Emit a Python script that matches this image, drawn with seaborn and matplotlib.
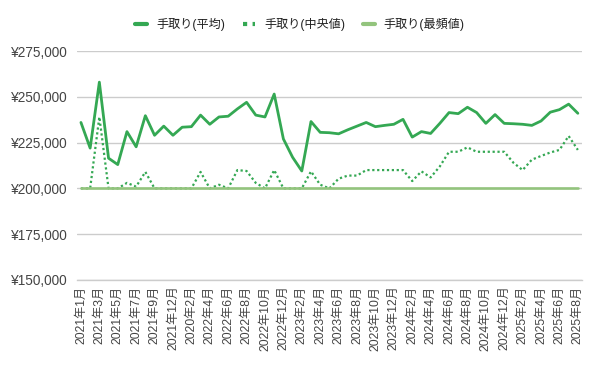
import matplotlib
matplotlib.use("Agg")
import matplotlib.pyplot as plt
import seaborn as sns
import pandas as pd
from matplotlib.lines import Line2D
from matplotlib.ticker import FuncFormatter

months = [
    "2021年1月", "2021年2月", "2021年3月", "2021年4月", "2021年5月", "2021年6月",
    "2021年7月", "2021年8月", "2021年9月", "2021年10月", "2021年12月", "2022年1月",
    "2020年2月", "2022年3月", "2022年4月", "2022年5月", "2022年6月", "2022年7月",
    "2022年8月", "2022年9月", "2022年10月", "2022年11月", "2022年12月", "2023年1月",
    "2023年2月", "2023年3月", "2023年4月", "2023年5月", "2023年6月", "2023年7月",
    "2023年8月", "2023年9月", "2023年10月", "2023年11月", "2023年12月", "2024年1月",
    "2024年2月", "2024年3月", "2024年4月", "2024年5月", "2024年6月", "2024年7月",
    "2024年8月", "2024年9月", "2024年10月", "2024年11月", "2024年12月", "2025年1月",
    "2025年2月", "2025年3月", "2025年4月", "2025年5月", "2025年6月", "2025年7月",
    "2025年8月",
]

mean_pay = [
    236000, 222000, 258000, 216500, 213000, 231000, 222700, 239700, 229000, 234000,
    229000, 233400, 233700, 240000, 235000, 239000, 239400, 243400, 247000, 240000,
    239000, 251500, 227000, 217000, 209500, 236500, 230600, 230400, 229800, 232000,
    234000, 236000, 233700, 234400, 235000, 237700, 228000, 231000, 230000, 235500,
    241400, 240800, 244300, 241400, 235500, 240300, 235500, 235300, 235000, 234400,
    236800, 241600, 243000, 246000, 241000,
]

median_pay = [
    200000, 200000, 239000, 200000, 200000, 203000, 201000, 209000, 200000, 200000,
    200000, 200000, 200000, 209000, 200000, 202000, 200000, 210000, 209500, 203000,
    200000, 210000, 200000, 200000, 200000, 209300, 202000, 200000, 205300, 207000,
    207000, 210000, 210000, 210000, 210000, 210000, 204000, 209300, 206000, 212000,
    220000, 220000, 222400, 220000, 220000, 220000, 220000, 214000, 210000, 215700,
    217700, 219600, 221000, 228600, 221000,
]

mode_pay = [
    200000, 200000, 200000, 200000, 200000, 200000, 200000, 200000, 200000, 200000,
    200000, 200000, 200000, 200000, 200000, 200000, 200000, 200000, 200000, 200000,
    200000, 200000, 200000, 200000, 200000, 200000, 200000, 200000, 200000, 200000,
    200000, 200000, 200000, 200000, 200000, 200000, 200000, 200000, 200000, 200000,
    200000, 200000, 200000, 200000, 200000, 200000, 200000, 200000, 200000, 200000,
    200000, 200000, 200000, 200000, 200000,
]

series_names = ["手取り(平均)", "手取り(中央値)", "手取り(最頻値)"]
y_ticks = [150000, 175000, 200000, 225000, 250000, 275000]

sns.set_theme(style="white")
plt.rcParams["font.family"] = ["Liberation Sans", "Noto Sans CJK JP", "DejaVu Sans"]

GREEN = "#34a853"
LIGHT = "#93c47d"

df = pd.DataFrame({
    "idx": list(range(len(months))),
    "mean": mean_pay,
    "median": median_pay,
    "mode": mode_pay,
})

fig = plt.figure(figsize=(6, 3.71), dpi=100)
ax = fig.add_axes([0.128, 0.2453, 0.842, 0.6172])

sns.lineplot(data=df, x="idx", y="mean", ax=ax, color=GREEN, linewidth=2.0,
             zorder=3, legend=False)
sns.lineplot(data=df, x="idx", y="median", ax=ax, color=GREEN, linewidth=1.6,
             linestyle=(0, (1, 1.2)), zorder=3, legend=False)
sns.lineplot(data=df, x="idx", y="mode", ax=ax, color=LIGHT, linewidth=1.9,
             zorder=4, legend=False)

ax.set_xlim(-0.45, len(months) - 1 + 0.45)
ax.set_ylim(150000, 275000)
ax.set_yticks(y_ticks)
ax.yaxis.set_major_formatter(FuncFormatter(lambda v, p: "¥{:,}".format(int(v))))
ax.set_xticks(list(range(0, len(months), 2)))
ax.set_xticklabels(months[::2], rotation=90)
ax.set_xlabel("")
ax.set_ylabel("")

ax.grid(axis="y", color="#cccccc", linewidth=1)
ax.grid(axis="x", visible=False)
for s in ["left", "right", "top"]:
    ax.spines[s].set_visible(False)
ax.spines["bottom"].set_color("#cccccc")
ax.spines["bottom"].set_linewidth(1)
ax.tick_params(axis="both", length=0, labelcolor="#444444")
ax.tick_params(axis="x", pad=4, labelsize=8.7)
ax.tick_params(axis="y", pad=6.5, labelsize=9.8)

handles = [
    Line2D([0], [0], color=GREEN, linewidth=3),
    Line2D([0], [0], color=GREEN, linewidth=3, linestyle=(0, (1, 1.3))),
    Line2D([0], [0], color=LIGHT, linewidth=3),
]
fig.legend(handles, series_names, loc="center", bbox_to_anchor=(0.5, 0.933),
           ncol=3, frameon=False, fontsize=8.7, handlelength=1.0,
           columnspacing=1.45, handletextpad=0.75, labelcolor="#222222")

fig.savefig("out.png", dpi=100)
